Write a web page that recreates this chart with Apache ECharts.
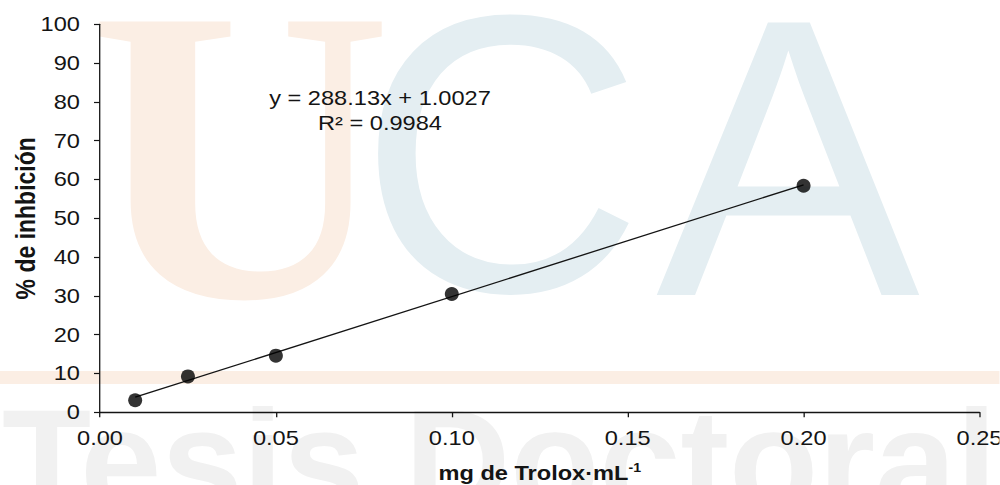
<!DOCTYPE html>
<html>
<head>
<meta charset="utf-8">
<script src="https://cdn.jsdelivr.net/npm/echarts@6/dist/echarts.min.js"></script>
<style>
  html, body { margin: 0; padding: 0; background: #ffffff; overflow: hidden; }
  #wrap { width: 1000px; height: 485px; position: relative; overflow: hidden; }
  #chart { position: absolute; left: 0; top: 0; height: 485px; transform-origin: 0 0; }
</style>
</head>
<body>
<div id="wrap"><div id="chart"></div></div>
<script>
// Trolox calibration: % inhibition vs concentration
const concentration = [0.01, 0.025, 0.05, 0.10, 0.20];   // mg de Trolox·mL-1
const inhibition    = [3.1, 9.25, 14.6, 30.5, 58.4];      // % de inhibición
const slope = 288.13;
const intercept = 1.0027;
const rSquared = 0.9984;
const xAxisRange = [0, 0.25, 0.05];   // min, max, interval
const yAxisRange = [0, 100, 10];

// horizontal stretch of the whole figure (text and frame are drawn wide)
const S = 1.18;
const W = 1000 / S;
const el = document.getElementById('chart');
el.style.width = W + 'px';
el.style.transform = 'scaleX(' + S + ')';

const points = concentration.map((x, i) => [x, inhibition[i]]);
const xFirst = Math.min(...concentration);
const xLast = Math.max(...concentration);
const trend = [[xFirst, slope * xFirst + intercept], [xLast, slope * xLast + intercept]];

const ink = '#141414';
const FONT = '"Liberation Sans", Arial, sans-serif';

// background lettering, kept at natural width
function mark(text, x, y, size, color, family, weight) {
  return {
    type: 'text', z: -10, x: x / S, y: y, scaleX: 1 / S, silent: true,
    style: { text: text, fill: color, font: (weight || 'normal') + ' ' + size + 'px ' + family,
             textAlign: 'left', textVerticalAlign: 'top' }
  };
}

const chart = echarts.init(el, null, { renderer: 'svg' });
chart.setOption({
  backgroundColor: '#ffffff',
  animation: false,
  grid: { left: 100 / S, right: 20 / S, top: 24.3, bottom: 72.7,
          containLabel: false, outerBoundsMode: 'none' },
  graphic: [
    { type: 'rect', z: -10, silent: true, shape: { x: 0, y: 371, width: W, height: 13 },
      style: { fill: '#FBEEE4' } },
    mark('U', 89, -55, 420, '#FBEEE4', '"Liberation Serif", "Times New Roman", serif', 'bold'),
    mark('C', 358, -44, 396, '#E4EEF2', FONT),
    mark('A', 656, -40, 396, '#E4EEF2', FONT),
    mark('Tesis Doctoral', 2, 388, 146, '#F1F1F1', FONT, 'bold'),
    {
      type: 'text', z: 5, x: 380 / S, y: 85, silent: true,
      style: {
        text: 'y = ' + slope.toFixed(2) + 'x + ' + intercept.toFixed(4) + '\nR² = ' + rSquared.toFixed(4),
        fill: ink, font: '20px ' + FONT, textAlign: 'center', textVerticalAlign: 'top', lineHeight: 25.7
      }
    }
  ],
  xAxis: {
    type: 'value', min: xAxisRange[0], max: xAxisRange[1], interval: xAxisRange[2],
    name: '{a|mg de Trolox·mL}{s|-1}', nameLocation: 'middle', nameGap: 50, nameMoveOverlap: false,
    nameTextStyle: {
      rich: {
        a: { fontFamily: FONT, fontWeight: 'bold', fontSize: 20, color: ink, lineHeight: 22 },
        s: { fontFamily: FONT, fontWeight: 'bold', fontSize: 12, color: ink, lineHeight: 22, verticalAlign: 'top' }
      }
    },
    splitLine: { show: false },
    axisLine: { show: true, onZero: false, lineStyle: { color: ink, width: 1.3 } },
    axisTick: { show: true, length: 5, lineStyle: { color: ink, width: 1.1 } },
    axisLabel: { margin: 16, fontFamily: FONT, fontSize: 20, color: ink,
                 hideOverlap: false, formatter: v => v.toFixed(2) }
  },
  yAxis: {
    type: 'value', min: yAxisRange[0], max: yAxisRange[1], interval: yAxisRange[2],
    name: '% de inhbición', nameLocation: 'middle', nameGap: 52, nameRotate: 90, nameMoveOverlap: false,
    nameTextStyle: { fontFamily: FONT, fontWeight: 'bold', fontSize: 23, color: ink },
    splitLine: { show: false },
    axisLine: { show: true, onZero: false, lineStyle: { color: ink, width: 1.1 } },
    axisTick: { show: true, length: 6 / S, lineStyle: { color: ink, width: 1.2 } },
    axisLabel: { margin: 17, fontFamily: FONT, fontSize: 20, color: ink }
  },
  series: [
    {
      type: 'line', data: trend, symbol: 'none', z: 2, silent: true,
      lineStyle: { color: ink, width: 1.3 }
    },
    {
      type: 'scatter', data: points, z: 3, symbol: 'circle',
      symbolSize: [14 / S, 14],
      itemStyle: { color: '#000000' }
    }
  ]
});
</script>
</body>
</html>
